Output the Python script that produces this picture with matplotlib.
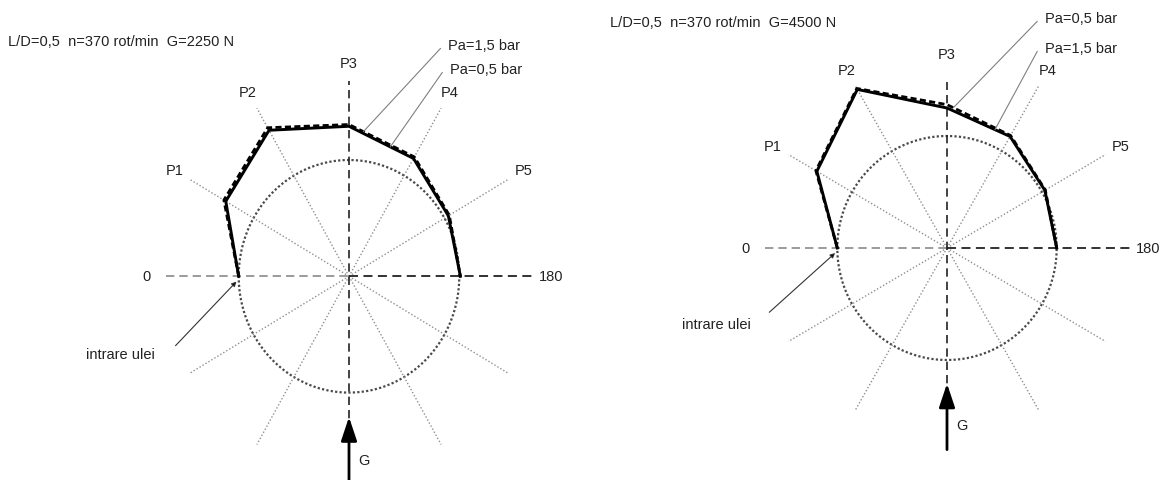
import numpy as np
import matplotlib.pyplot as plt

plt.rcParams['font.family'] = ['Liberation Sans', 'DejaVu Sans']

# unghiul pe lagar (0 = intrare ulei, 180 = iesire), grade
theta = [0, 30, 60, 90, 120, 150, 180]
spoke_names = ['P1', 'P2', 'P3', 'P4', 'P5']

# presiuni relative (raza cercului = 1)
left_title = 'L/D=0,5  n=370 rot/min  G=2250 N'
left_pa05 = [1.00, 1.29, 1.45, 1.29, 1.17, 1.04, 1.01]
left_pa15 = [1.00, 1.31, 1.475, 1.305, 1.185, 1.05, 1.01]

right_title = 'L/D=0,5  n=370 rot/min  G=4500 N'
right_pa05 = [1.00, 1.38, 1.645, 1.28, 1.16, 1.035, 1.00]
right_pa15 = [1.00, 1.37, 1.635, 1.25, 1.15, 1.03, 1.00]

W, H = 1167, 481
TXT = '#222222'
FS = 10.5


def xy(r, t):
    phi = np.radians(180 - np.asarray(t, dtype=float))
    return np.asarray(r) * np.cos(phi), np.asarray(r) * np.sin(phi)


def on_seg(vals, i, f):
    # point on polygon segment i -> i+1, fraction f
    x, y = xy(vals, theta)
    return x[i] + f * (x[i + 1] - x[i]), y[i] + f * (y[i + 1] - y[i])


def panel(px0, px1, cx, cy, rx, ry, vtop, p3r, curves, labels, oil):
    ax = fig.add_axes([px0 / W, 0, (px1 - px0) / W, 1])
    ax.set_xlim(-(cx - px0) / rx, (px1 - cx) / rx)
    ax.set_ylim(-(H - cy) / ry, cy / ry)
    ax.axis('off')

    # cerc
    a = np.linspace(0, 2 * np.pi, 400)
    ax.plot(np.cos(a), np.sin(a), color='#4a4a4a', lw=1.6, ls=(0, (1, 1)))

    # raze la 30 grade
    for t in range(30, 360, 30):
        if t % 90 == 0:
            continue
        x, y = xy([0, 1.67], [t, t])
        ax.plot(x, y, color='#8f8f8f', lw=1.0, ls=(0, (1, 1.5)))

    # axe
    ax.plot([-1.66, 0], [0, 0], color='#8a8a8a', lw=1.2, ls=(0, (5, 3)))
    ax.plot([0, 1.68], [0, 0], color='#222222', lw=1.3, ls=(0, (5, 3)))
    ax.plot([0, 0], [-1.45, vtop], color='#222222', lw=1.2, ls=(0, (5, 3)))

    ax.text(-1.84, 0, '0', ha='center', va='center', fontsize=FS, color=TXT)
    ax.text(1.83, 0, '180', ha='center', va='center', fontsize=FS, color=TXT)
    for name, t in zip(spoke_names, theta[1:-1]):
        x, y = xy(p3r if t == 90 else 1.83, t)
        ax.text(x, y, name, ha='center', va='center', fontsize=FS, color=TXT)

    # G
    ax.annotate('', xy=(0, -1.21), xytext=(0, -1.80), annotation_clip=False,
                arrowprops=dict(arrowstyle='-|>,head_width=0.3,head_length=0.9',
                                color='black', lw=2, mutation_scale=16,
                                shrinkA=0, shrinkB=0))
    ax.text(0.135, -1.58, 'G', ha='center', va='center', fontsize=FS, color=TXT)

    # curbe de presiune
    for vals, style in curves:
        x, y = xy(vals, theta)
        if style == 'solid':
            ax.plot(x, y, color='black', lw=2.1, solid_joinstyle='miter')
        else:
            ax.plot(x, y, color='black', lw=2.0, ls=(0, (2.2, 1.2)))

    # etichete Pa
    for text, tx, ty, vals, frac in labels:
        ex, ey = on_seg(vals, 3, frac)
        ax.annotate('', xy=(ex, ey), xytext=(tx - 0.07, ty - 0.03),
                    arrowprops=dict(arrowstyle='-', color='#808080', lw=0.8,
                                    shrinkA=0, shrinkB=0))
        ax.text(tx, ty, text, ha='left', va='center', fontsize=FS, color=TXT)

    # intrare ulei
    tx, ty, lx, ly = oil
    ax.annotate('', xy=(-1.02, -0.045), xytext=(lx, ly),
                arrowprops=dict(arrowstyle='-|>', color='#808080', lw=0.8,
                                mutation_scale=7, shrinkA=0, shrinkB=0,
                                fc='black', ec='#333333'))
    ax.text(tx, ty, 'intrare ulei', ha='center', va='center', fontsize=FS, color=TXT)
    return ax


fig = plt.figure(figsize=(W / 100, H / 100), dpi=100)

panel(0, 583, 349, 277.3, 110.3, 116.3, 1.68, 1.83,
      [(left_pa05, 'solid'), (left_pa15, 'dashed')],
      [('Pa=1,5 bar', 0.90, 1.99, left_pa15, 0.22),
       ('Pa=0,5 bar', 0.916, 1.783, left_pa05, 0.64)],
      (-2.076, -0.668, -1.573, -0.597))
fig.text(8 / W, 1 - 42 / H, left_title, ha='left', va='center', fontsize=FS, color=TXT)

panel(583, 1167, 947, 249, 109.7, 112, 1.48, 1.73,
      [(right_pa15, 'solid'), (right_pa05, 'dashed')],
      [('Pa=0,5 bar', 0.893, 2.054, right_pa05, 0.10),
       ('Pa=1,5 bar', 0.893, 1.786, right_pa15, 0.76)],
      (-2.106, -0.679, -1.62, -0.574))
fig.text(610 / W, 1 - 23 / H, right_title, ha='left', va='center', fontsize=FS, color=TXT)

fig.savefig('out.png', dpi=100)
